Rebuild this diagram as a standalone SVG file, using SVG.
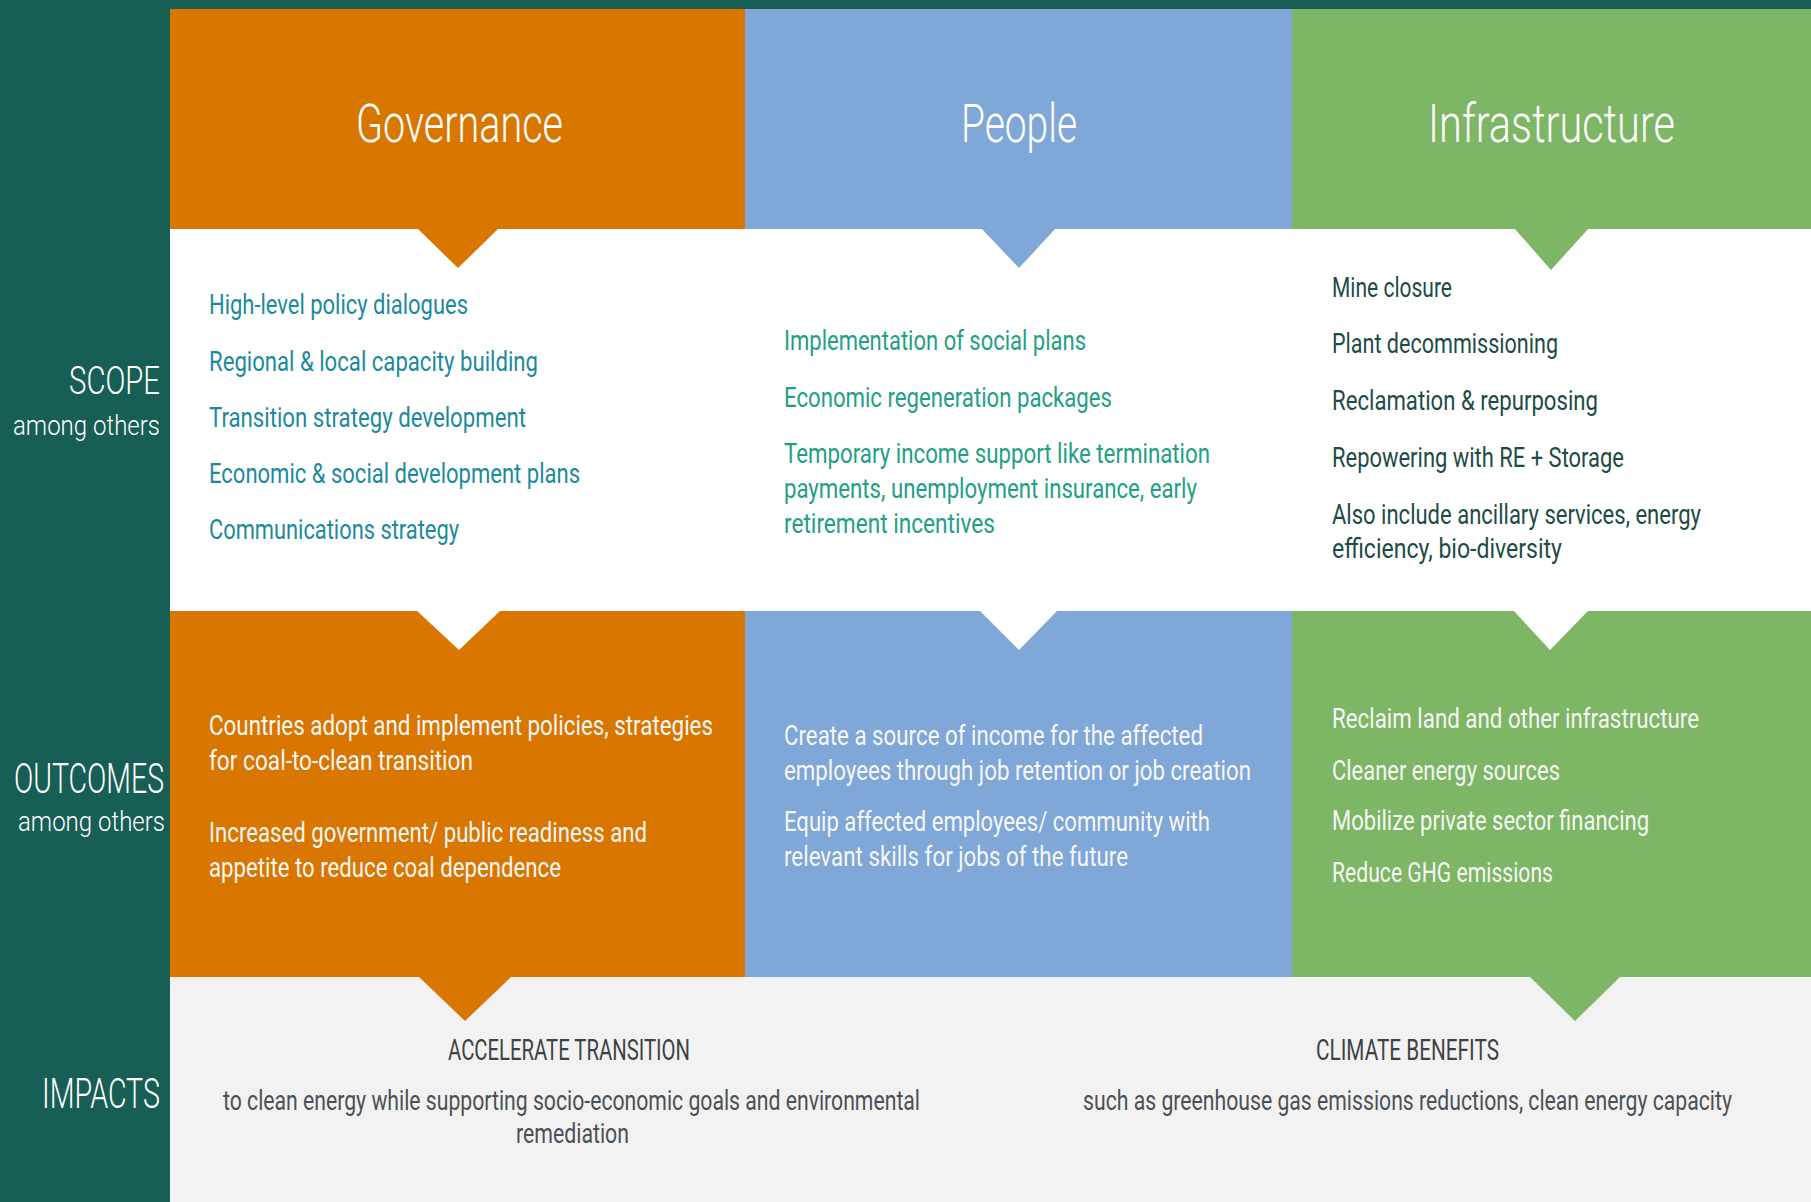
<svg xmlns="http://www.w3.org/2000/svg" width="1811" height="1202" viewBox="0 0 1811 1202">
  <style>
    text { font-family: Roboto, "Liberation Sans", Arial, sans-serif; }
    .hd { font-size: 54px; font-weight: 300; fill: #ffffff; }
    .lbl { font-size: 42px; font-weight: 300; fill: #ffffff; }
    .sub { font-size: 27px; font-weight: 300; fill: #ffffff; }
    .item { font-size: 28px; font-weight: 400; }
    .gov-s { fill: #1B8A9C; }
    .ppl-s { fill: #22A085; }
    .inf-s { fill: #1D4B47; }
    .out { fill: #F7F7F7; }
    .imh { font-size: 29px; font-weight: 400; fill: #3E4246; }
    .imb { font-size: 27px; font-weight: 400; fill: #4B5056; }
  </style>

  <!-- backgrounds -->
  <rect x="0" y="0" width="1811" height="1202" fill="#175E54"/>
  <rect x="170" y="229" width="1641" height="382" fill="#ffffff"/>
  <rect x="170" y="977" width="1641" height="225" fill="#F2F2F2"/>

  <!-- row labels -->
  <g id="row-labels">
    <text class="lbl" x="69" y="394" style="font-size:39px" textLength="91" lengthAdjust="spacingAndGlyphs">SCOPE</text>
    <text class="sub" x="13" y="435" textLength="147" lengthAdjust="spacingAndGlyphs">among others</text>
    <text class="lbl" x="14" y="793" textLength="150" lengthAdjust="spacingAndGlyphs">OUTCOMES</text>
    <text class="sub" x="18" y="831" textLength="147" lengthAdjust="spacingAndGlyphs">among others</text>
    <text class="lbl" x="42" y="1108" textLength="118" lengthAdjust="spacingAndGlyphs">IMPACTS</text>
  </g>

  <!-- Governance column -->
  <g id="governance">
    <rect x="170" y="9" width="575" height="220" fill="#D87600"/>
    <rect x="170" y="611" width="575" height="366" fill="#D87600"/>
    <text class="hd" x="356" y="142" textLength="207" lengthAdjust="spacingAndGlyphs">Governance</text>
    <g class="item gov-s">
      <text x="209" y="314" textLength="259" lengthAdjust="spacingAndGlyphs">High-level policy dialogues</text>
      <text x="209" y="371" textLength="329" lengthAdjust="spacingAndGlyphs">Regional &amp; local capacity building</text>
      <text x="209" y="427" textLength="317" lengthAdjust="spacingAndGlyphs">Transition strategy development</text>
      <text x="209" y="483" textLength="371" lengthAdjust="spacingAndGlyphs">Economic &amp; social development plans</text>
      <text x="209" y="539" textLength="250" lengthAdjust="spacingAndGlyphs">Communications strategy</text>
    </g>
    <g class="item out">
      <text x="209" y="735" textLength="504" lengthAdjust="spacingAndGlyphs">Countries adopt and implement policies,  strategies</text>
      <text x="209" y="770" textLength="264" lengthAdjust="spacingAndGlyphs">for coal-to-clean transition</text>
      <text x="209" y="842" textLength="438" lengthAdjust="spacingAndGlyphs">Increased government/ public readiness and</text>
      <text x="209" y="877" textLength="352" lengthAdjust="spacingAndGlyphs">appetite to reduce coal dependence</text>
    </g>
  </g>

  <!-- People column -->
  <g id="people">
    <rect x="745" y="9" width="547" height="220" fill="#7FA7D8"/>
    <rect x="745" y="611" width="547" height="366" fill="#7FA7D8"/>
    <text class="hd" x="961" y="142" textLength="116" lengthAdjust="spacingAndGlyphs">People</text>
    <g class="item ppl-s">
      <text x="784" y="350" textLength="302" lengthAdjust="spacingAndGlyphs">Implementation of social plans</text>
      <text x="784" y="407" textLength="328" lengthAdjust="spacingAndGlyphs">Economic regeneration packages</text>
      <text x="784" y="463" textLength="426" lengthAdjust="spacingAndGlyphs">Temporary income support like termination</text>
      <text x="784" y="498" textLength="413" lengthAdjust="spacingAndGlyphs">payments, unemployment insurance, early</text>
      <text x="784" y="533" textLength="211" lengthAdjust="spacingAndGlyphs">retirement incentives</text>
    </g>
    <g class="item out">
      <text x="784" y="745" textLength="419" lengthAdjust="spacingAndGlyphs">Create a source of income for the affected</text>
      <!-- long line: condensed in its own frame so it stays inside the column -->
      <text transform="translate(784 780) scale(0.8 1)" x="0" y="0" textLength="583.75" lengthAdjust="spacingAndGlyphs">employees through job retention or job creation</text>
      <text x="784" y="831" textLength="426" lengthAdjust="spacingAndGlyphs">Equip affected employees/ community with</text>
      <text x="784" y="866" textLength="344" lengthAdjust="spacingAndGlyphs">relevant skills for jobs of the future</text>
    </g>
  </g>

  <!-- Infrastructure column -->
  <g id="infrastructure">
    <rect x="1292" y="9" width="519" height="220" fill="#7DB665"/>
    <rect x="1292" y="611" width="519" height="366" fill="#7DB665"/>
    <text class="hd" x="1428" y="142" textLength="247" lengthAdjust="spacingAndGlyphs">Infrastructure</text>
    <g class="item inf-s">
      <text x="1332" y="297" textLength="120" lengthAdjust="spacingAndGlyphs">Mine closure</text>
      <text x="1332" y="353" textLength="226" lengthAdjust="spacingAndGlyphs">Plant decommissioning</text>
      <text x="1332" y="410" textLength="266" lengthAdjust="spacingAndGlyphs">Reclamation &amp; repurposing</text>
      <text x="1332" y="467" textLength="292" lengthAdjust="spacingAndGlyphs">Repowering with RE + Storage</text>
      <text x="1332" y="524" textLength="369" lengthAdjust="spacingAndGlyphs">Also include ancillary services, energy</text>
      <text x="1332" y="558" textLength="230" lengthAdjust="spacingAndGlyphs">efficiency, bio-diversity</text>
    </g>
    <g class="item out">
      <text x="1332" y="728" textLength="367" lengthAdjust="spacingAndGlyphs">Reclaim land and other infrastructure</text>
      <text x="1332" y="780" textLength="228" lengthAdjust="spacingAndGlyphs">Cleaner energy sources</text>
      <text x="1332" y="830" textLength="317" lengthAdjust="spacingAndGlyphs">Mobilize private sector financing</text>
      <text x="1332" y="882" textLength="221" lengthAdjust="spacingAndGlyphs">Reduce GHG emissions</text>
    </g>
  </g>

  <!-- Impacts -->
  <g id="impact-transition">
    <text class="imh" x="448" y="1060" textLength="242" lengthAdjust="spacingAndGlyphs">ACCELERATE TRANSITION</text>
    <text class="imb" x="223" y="1110" textLength="697" lengthAdjust="spacingAndGlyphs">to clean energy while supporting socio-economic goals and environmental</text>
    <text class="imb" x="516" y="1143" textLength="113" lengthAdjust="spacingAndGlyphs">remediation</text>
  </g>
  <g id="impact-climate">
    <text class="imh" x="1316" y="1060" textLength="183" lengthAdjust="spacingAndGlyphs">CLIMATE BENEFITS</text>
    <text class="imb" transform="translate(1083 1110) scale(0.8 1)" x="0" y="0" textLength="811.25" lengthAdjust="spacingAndGlyphs">such as greenhouse gas emissions reductions, clean energy capacity</text>
  </g>

  <!-- pointer notches linking the rows -->
  <g id="connectors">
    <polygon points="417,228 499,228 458,268" fill="#D87600"/>
    <polygon points="981,228 1056,228 1019,268" fill="#7FA7D8"/>
    <polygon points="1514,228 1589,228 1551,270" fill="#7DB665"/>
    <polygon points="416,610 501,610 459,650" fill="#ffffff"/>
    <polygon points="979,610 1058,610 1019,650" fill="#ffffff"/>
    <polygon points="1513,610 1589,610 1550,650" fill="#ffffff"/>
    <polygon points="418,976 512,976 465,1021" fill="#D87600"/>
    <polygon points="1529,976 1621,976 1575,1021" fill="#7DB665"/>
  </g>
</svg>
